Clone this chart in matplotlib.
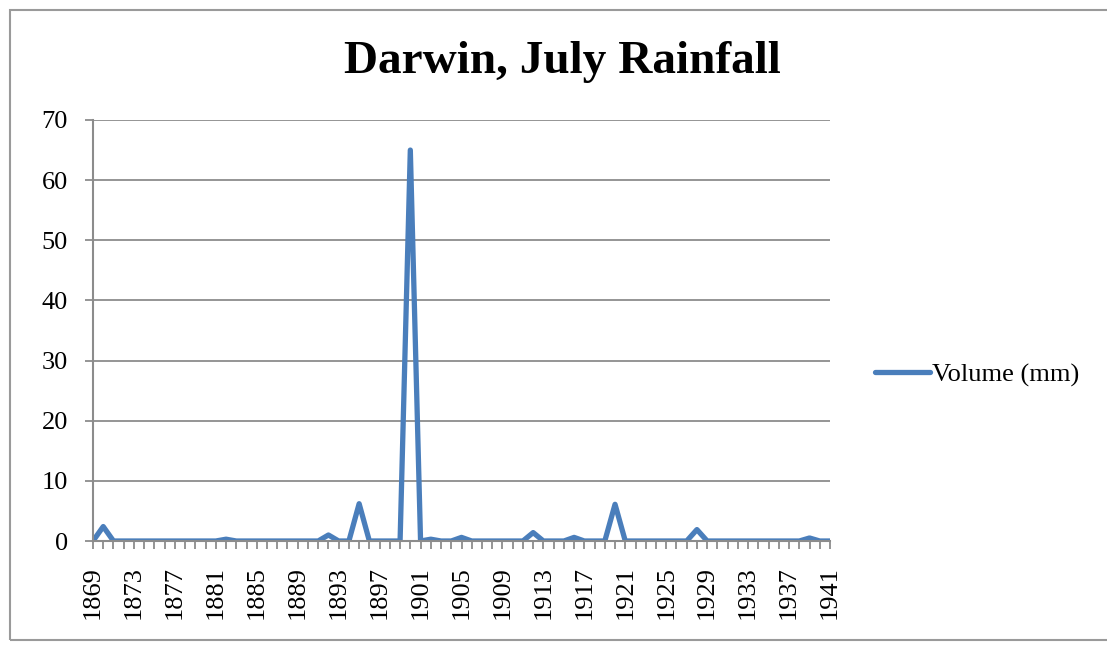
import numpy as np
import matplotlib.pyplot as plt
from matplotlib.patches import Rectangle

# July rainfall at Darwin, one value per year
years = np.arange(1869, 1942)
rain = np.zeros(len(years))
peaks = {1870: 2.4, 1882: 0.3, 1892: 1.0, 1895: 6.2, 1900: 65.0, 1902: 0.3,
         1905: 0.6, 1912: 1.4, 1916: 0.6, 1920: 6.1, 1928: 1.9, 1939: 0.5}
for yr, v in peaks.items():
    rain[yr - 1869] = v
label_years = years[::4]

plt.rcParams['font.family'] = ['Liberation Serif', 'DejaVu Serif']

fig = plt.figure(figsize=(11.07, 6.49), dpi=100)
ax = fig.add_axes([93 / 1107, 1 - 541 / 649, 737 / 1107, 421 / 649])

ax.plot(years, rain, color='#4a7ebb', lw=3.8, label='Volume (mm)',
        solid_joinstyle='round', solid_capstyle='round')

ax.set_xlim(1869, 1941)
ax.set_ylim(0, 70)
ax.set_yticks(range(0, 71, 10))
ax.set_xticks(label_years)
ax.set_xticks(years, minor=True)
ax.set_xticklabels([str(y) for y in label_years], rotation=90, fontsize=19)
ax.tick_params(axis='y', labelsize=19, length=6, width=1.3, color='#8c8c8c', pad=12)
ax.tick_params(axis='x', which='both', length=6, width=1.3, color='#8c8c8c',
               direction='out', pad=12)
ax.grid(axis='y', color='#8c8c8c', lw=1.3)
ax.set_axisbelow(True)
for s in ['top', 'right']:
    ax.spines[s].set_visible(False)
for s in ['left', 'bottom']:
    ax.spines[s].set_color('#8c8c8c')
    ax.spines[s].set_linewidth(1.5)

fig.text(562 / 1107, 1 - 62 / 649, 'Darwin, July Rainfall', ha='center', va='center',
         fontsize=34, fontweight='bold')

ax.legend(loc='center left', bbox_to_anchor=(1.061, 0.395), frameon=False, fontsize=19,
          handlelength=2.1, handletextpad=0.05, borderaxespad=0, borderpad=0)

fig.patches.append(Rectangle((10 / 1107, 1 - 640 / 649), 1.2, 630 / 649,
                             transform=fig.transFigure, fill=False, ec='#9a9a9a', lw=1.5))

fig.savefig('out.png', dpi=100)
